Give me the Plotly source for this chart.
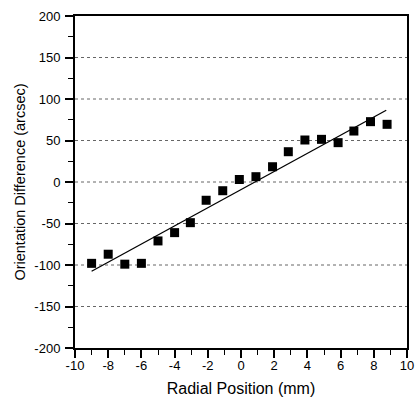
import plotly.graph_objects as go

radial_mm = [-9.0, -8.0, -7.0, -6.0, -5.0, -4.0, -3.05, -2.1, -1.1, -0.1,
             0.9, 1.9, 2.85, 3.85, 4.85, 5.85, 6.8, 7.8, 8.8]
orient_arcsec = [-98, -87, -99, -98, -71, -61, -49, -22, -10.5, 3,
                 6.4, 18.4, 36.5, 50.6, 51.4, 47.4, 61.4, 72.7, 69.5]
fit_x = [-9.0, 8.75]
fit_y = [-107.5, 86.5]

x_ticks = [-10, -8, -6, -4, -2, 0, 2, 4, 6, 8, 10]
x_ticktext = ["-10", "-8", "-6", "-4", "-2", "0", "2", "4", "6", "8", "10"]
y_ticks = [-200, -150, -100, -50, 0, 50, 100, 150, 200]
y_ticktext = ["-200", "-150", "-100", "-50", "0", "50", "100", "150", "200"]
grid_y = [-150, -100, -50, 0, 50, 100, 150]

font = "Liberation Sans, Arial, sans-serif"

fig = go.Figure()
fig.add_trace(go.Scatter(x=fit_x, y=fit_y, mode="lines",
                         line=dict(color="black", width=1.3), showlegend=False))
fig.add_trace(go.Scatter(x=radial_mm, y=orient_arcsec, mode="markers",
                         marker=dict(symbol="square", size=9, color="black"),
                         showlegend=False))

for gy in grid_y:
    fig.add_shape(type="line", xref="paper", x0=0, x1=1, yref="y", y0=gy, y1=gy,
                  line=dict(color="#666666", width=1, dash="dot"), layer="below")

fig.update_layout(
    width=415, height=400,
    margin=dict(l=75, r=8, t=16, b=52),
    paper_bgcolor="white", plot_bgcolor="white",
    font=dict(family=font, size=13, color="black"),
    xaxis=dict(range=[-10, 10], tickvals=x_ticks, ticktext=x_ticktext,
               ticks="outside", ticklen=8, automargin=False, ticklabelstandoff=-4,
               ticklabeloverflow="allow",
               tickwidth=1.5, tickcolor="black", showgrid=False, zeroline=False,
               showline=True, linecolor="black", linewidth=2, mirror=True,
               minor=dict(dtick=1, ticks="outside", ticklen=5, tickcolor="black", tickwidth=1.2),
               title=dict(text="Radial Position (mm)", font=dict(size=16), standoff=11),
               tickfont=dict(size=13)),
    yaxis=dict(range=[-200, 200], tickvals=y_ticks, ticktext=y_ticktext,
               ticks="outside", ticklen=8, automargin=False, ticklabelstandoff=2,
               tickwidth=1.5, tickcolor="black", showgrid=False, zeroline=False,
               showline=True, linecolor="black", linewidth=2, mirror=True,
               minor=dict(dtick=25, ticks="outside", ticklen=5, tickcolor="black", tickwidth=1.2),
               title=dict(text="Orientation Difference (arcsec)", font=dict(size=14.5), standoff=5),
               tickfont=dict(size=13)),
)

# remove the page's default body margin so the figure fills the window exactly
fig.write_html("out.html",
               config={"displayModeBar": False},
               post_script="document.body.style.margin='0';document.body.style.overflow='hidden';")
